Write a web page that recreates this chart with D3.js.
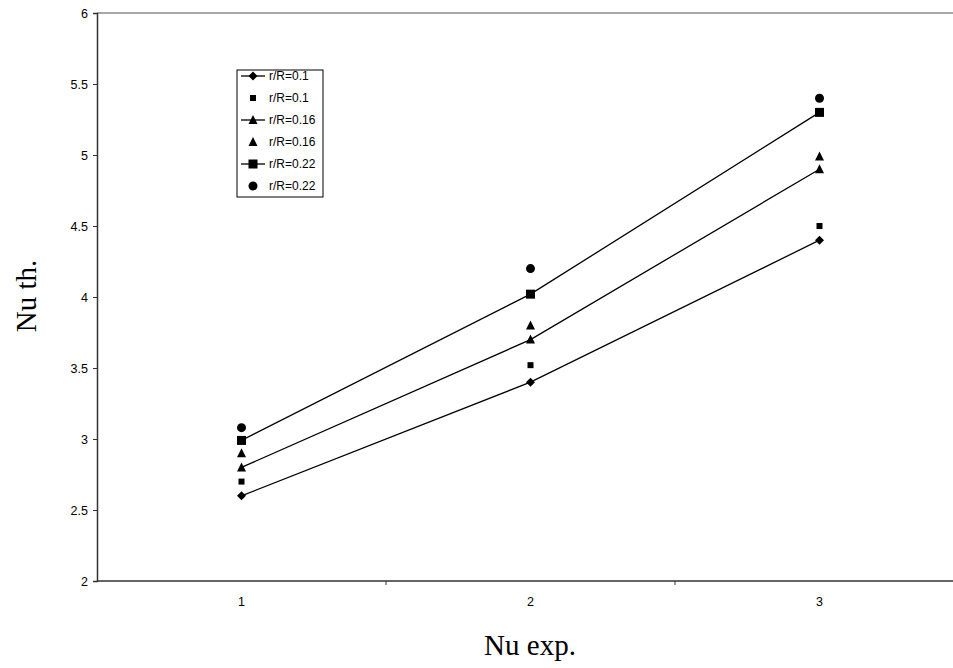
<!DOCTYPE html>
<html>
<head>
<meta charset="utf-8">
<script src="https://cdn.jsdelivr.net/npm/d3@7"></script>
<style>
  body { margin: 0; background: #fff; }
  svg { display: block; }
  .title { font-family: "Liberation Serif", "Times New Roman", serif; fill: #000; }
</style>
</head>
<body>
<div id="chart"></div>
<script>
// data
const categories = [1, 2, 3];
const line01 = [2.6, 3.4, 4.4];
const pts01 = [2.7, 3.52, 4.5];
const line016 = [2.8, 3.7, 4.9];
const pts016 = [2.9, 3.8, 4.99];
const line022 = [2.99, 4.02, 5.3];
const pts022 = [3.08, 4.2, 5.4];
const yTicks = [2, 2.5, 3, 3.5, 4, 4.5, 5, 5.5, 6];

const series = [
    {name: "r/R=0.1", values: line01, line: true, shape: "diamond"},
    {name: "r/R=0.1", values: pts01, line: false, shape: "smallsquare"},
    {name: "r/R=0.16", values: line016, line: true, shape: "triangle"},
    {name: "r/R=0.16", values: pts016, line: false, shape: "triangle"},
    {name: "r/R=0.22", values: line022, line: true, shape: "square"},
    {name: "r/R=0.22", values: pts022, line: false, shape: "circle"}
];

const width = 953, height = 668;
const plotLeft = 97, plotTop = 13, plotW = 867, plotH = 568;
const sans = "'Liberation Sans', Arial, sans-serif";

const svg = d3.select("#chart").append("svg")
    .attr("width", width).attr("height", height);

const x = d3.scaleBand().domain(categories).range([plotLeft, plotLeft + plotW]);
const y = d3.scaleLinear().domain([2, 6]).range([plotTop + plotH, plotTop]);

// top border of plot area
svg.append("line")
    .attr("x1", plotLeft).attr("x2", plotLeft + plotW)
    .attr("y1", plotTop).attr("y2", plotTop)
    .attr("stroke", "#888").attr("stroke-width", 1.5);

// y axis
const yAxis = svg.append("g")
    .attr("transform", `translate(${plotLeft},0)`)
    .call(d3.axisLeft(y).tickValues(yTicks).tickSize(4).tickPadding(5).tickFormat(d3.format("")));
yAxis.select(".domain").attr("stroke", "#333").attr("stroke-width", 1.5);
yAxis.selectAll(".tick line").attr("stroke", "#333");
yAxis.selectAll(".tick text")
    .style("font-family", sans).style("font-size", "12.5px").attr("fill", "#000");

// x axis: ticks between categories, labels centred
const xAxis = svg.append("g")
    .attr("transform", `translate(0,${plotTop + plotH})`);
xAxis.append("line")
    .attr("x1", plotLeft).attr("x2", plotLeft + plotW)
    .attr("stroke", "#333").attr("stroke-width", 1.5);
xAxis.selectAll(".sep")
    .data(categories.slice(1))
    .enter().append("line")
    .attr("x1", d => x(d)).attr("x2", d => x(d))
    .attr("y1", 0).attr("y2", 4)
    .attr("stroke", "#333");
xAxis.selectAll(".lab")
    .data(categories)
    .enter().append("text")
    .attr("x", d => x(d) + x.bandwidth() / 2)
    .attr("y", 25)
    .attr("text-anchor", "middle")
    .style("font-family", sans)
    .style("font-size", "12.5px")
    .text(d => d);

const cx = d => x(d) + x.bandwidth() / 2;

function marker(g, shape) {
    if (shape === "diamond") {
        g.append("path").attr("d", "M0,-4.5L4.5,0L0,4.5L-4.5,0Z");
    } else if (shape === "smallsquare") {
        g.append("rect").attr("x", -3).attr("y", -3).attr("width", 6).attr("height", 6);
    } else if (shape === "square") {
        g.append("rect").attr("x", -4.5).attr("y", -4.5).attr("width", 9).attr("height", 9);
    } else if (shape === "triangle") {
        g.append("path").attr("d", "M0,-5L4.5,4L-4.5,4Z");
    } else if (shape === "circle") {
        g.append("circle").attr("r", 4.5);
    }
}

const line = d3.line().x((d, i) => cx(categories[i])).y(d => y(d));

series.forEach(s => {
    if (s.line) {
        svg.append("path")
            .attr("d", line(s.values))
            .attr("fill", "none")
            .attr("stroke", "#000")
            .attr("stroke-width", 1.3);
    }
    s.values.forEach((v, i) => {
        const g = svg.append("g")
            .attr("transform", `translate(${cx(categories[i])},${y(v)})`)
            .attr("fill", "#000");
        marker(g, s.shape);
    });
});

// legend
const legend = svg.append("g");
legend.append("rect")
    .attr("x", 237).attr("y", 70)
    .attr("width", 86).attr("height", 127)
    .attr("fill", "#fff").attr("stroke", "#000").attr("stroke-width", 1);
series.forEach((s, i) => {
    const ly = 76 + i * 22;
    if (s.line) {
        legend.append("line")
            .attr("x1", 241).attr("x2", 265)
            .attr("y1", ly).attr("y2", ly)
            .attr("stroke", "#000").attr("stroke-width", 1.3);
    }
    const g = legend.append("g")
        .attr("transform", `translate(253,${ly})`)
        .attr("fill", "#000");
    marker(g, s.shape);
    legend.append("text")
        .attr("x", 269).attr("y", ly + 4)
        .style("font-family", sans)
        .style("font-size", "12px")
        .text(s.name);
});

// axis titles
svg.append("text")
    .attr("class", "title")
    .attr("x", 530).attr("y", 655)
    .attr("text-anchor", "middle")
    .style("font-size", "29px")
    .text("Nu exp.");

svg.append("text")
    .attr("class", "title")
    .attr("transform", "translate(36,296) rotate(-90)")
    .attr("text-anchor", "middle")
    .style("font-size", "29px")
    .text("Nu th.");
</script>
</body>
</html>
